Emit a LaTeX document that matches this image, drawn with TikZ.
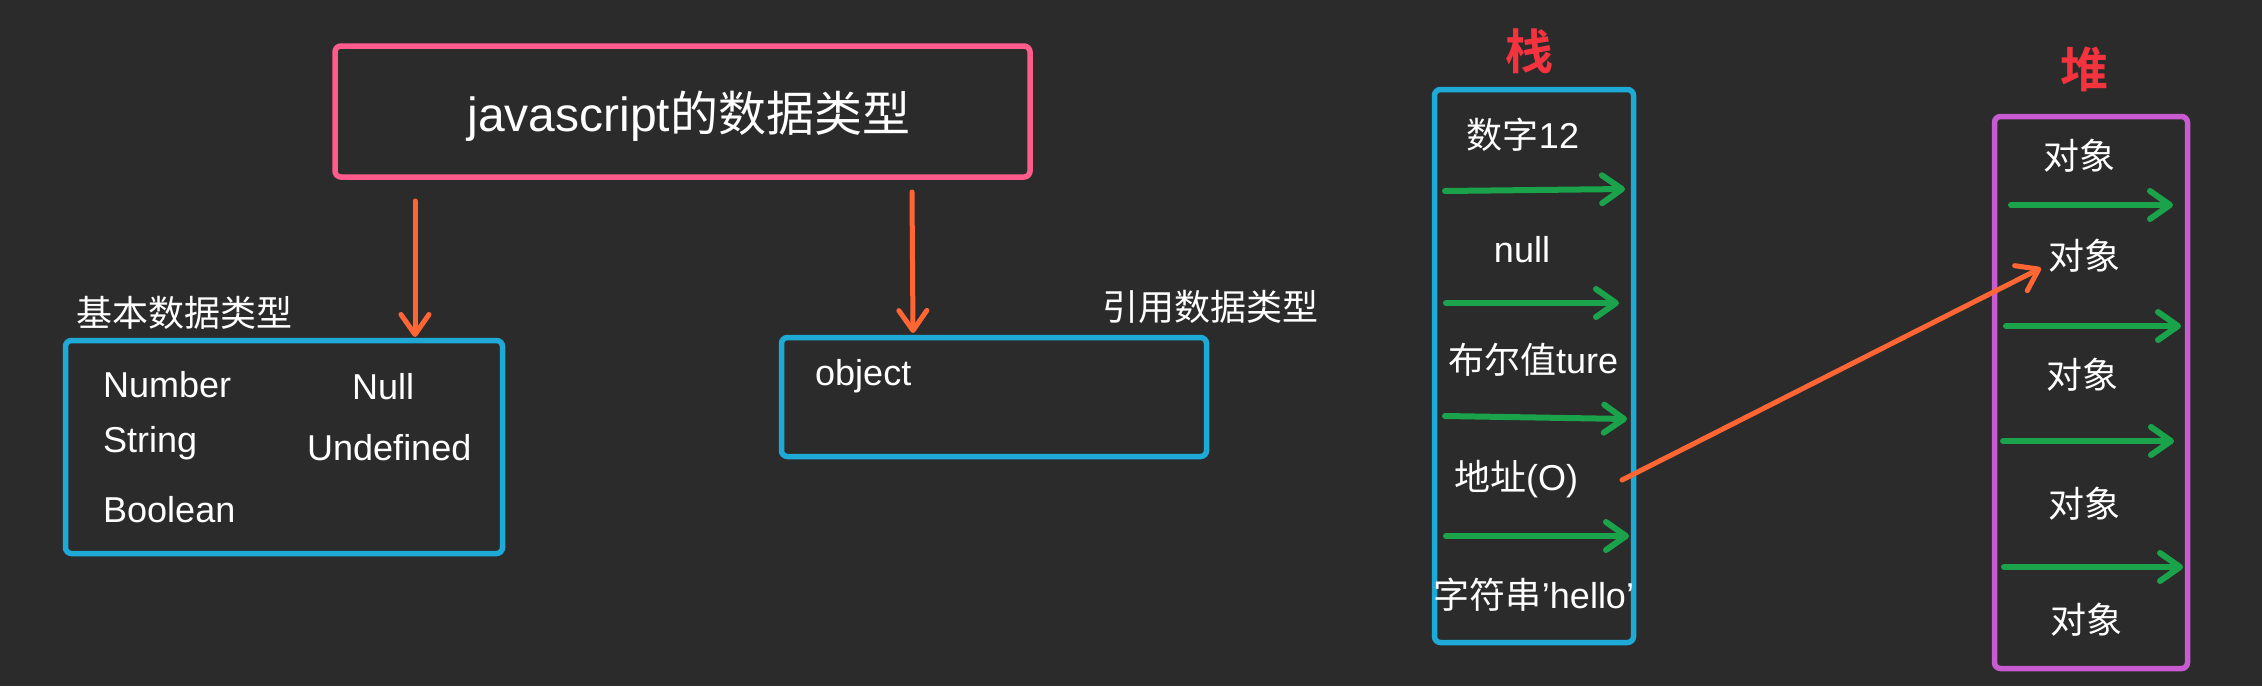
\documentclass[tikz,border=0pt]{standalone}
\usepackage{fontspec}
\setmainfont{Liberation Sans}
\newfontfamily\cjk{Noto Sans CJK SC}
\newfontfamily\cjkb{Noto Sans CJK SC Bold}
\usetikzlibrary{arrows.meta}
\definecolor{bgc}{HTML}{2B2B2B}
\definecolor{pinkc}{HTML}{FF5C8D}
\definecolor{bluec}{HTML}{1FA9D6}
\definecolor{magc}{HTML}{C95BD0}
\definecolor{greenc}{HTML}{1AA34A}
\definecolor{orangec}{HTML}{FF6633}
\definecolor{redc}{HTML}{F5333F}
\tikzset{
  box/.style={draw, line width=5.5pt, rounded corners=6pt, inner sep=0pt},
  txt/.style={text=white, inner sep=0pt, anchor=base, font=\fontsize{36}{40}\selectfont},
  ltxt/.style={txt, anchor=base west},
  redtxt/.style={text=redc, inner sep=0pt, anchor=base, font=\fontsize{48}{52}\selectfont\cjkb},
  oarrow/.style={draw=orangec, line width=5pt, line cap=round,
    -{Straight Barb[length=20pt,width=28pt,round,line width=5pt]}},
  garrow/.style={draw=greenc, line width=6pt, line cap=round,
    -{Straight Barb[length=20pt,width=28pt,round,line width=6pt]}},
}
\begin{document}
\begin{tikzpicture}[x=1pt,y=-1pt]
\fill[bgc] (0,0) rectangle (2262,686);
\useasboundingbox (0,0) rectangle (2262,686);

% title box
\node[box, draw=pinkc, minimum width=695pt, minimum height=131pt] (title) at (682.5,111.5) {};
\node[txt, font=\fontsize{48}{52}\selectfont] (titletxt) at (689,131) {javascript{\cjk 的数据类型}};

% basic types
\node[txt, font=\fontsize{36}{40}\selectfont\cjk] (basiclbl) at (184,326) {基本数据类型};
\node[box, draw=bluec, minimum width=437pt, minimum height=213pt] (basic) at (284,447) {};
\node[ltxt] (number) at (103,397) {Number};
\node[ltxt] (string) at (103,452) {String};
\node[ltxt] (boolean) at (103,522) {Boolean};
\node[ltxt] (null) at (352,399) {Null};
\node[ltxt] (undef) at (307,460) {Undefined};

% reference types
\node[txt, font=\fontsize{36}{40}\selectfont\cjk] (reflbl) at (1210,320) {引用数据类型};
\node[box, draw=bluec, minimum width=425pt, minimum height=119pt] (ref) at (994,397) {};
\node[ltxt] (object) at (815,385) {object};

% arrows from title
\coordinate (a1s) at (415,201);
\coordinate (a1e) at (415,337);
\coordinate (a2s) at (912,192);
\coordinate (a2e) at (913,333);
\draw[oarrow] (a1s) -- (a1e);
\draw[oarrow] (a2s) -- (a2e);

% stack
\node[redtxt] (zhan) at (1529,69) {栈};
\node[box, draw=bluec, minimum width=199pt, minimum height=553pt] (stack) at (1534,366) {};
\node[txt] (s1) at (1523,148) {{\cjk 数字}12};
\node[txt] (s2) at (1522,262) {null};
\node[txt] (s3) at (1533,373) {{\cjk 布尔值}ture};
\node[txt] (s4) at (1516,490) {{\cjk 地址}(O)};
\node[txt] (s5) at (1534,608) {{\cjk 字符串}’hello’};

\coordinate (g1s) at (1445,191); \coordinate (g1e) at (1625,189);
\coordinate (g2s) at (1446,303); \coordinate (g2e) at (1619,303);
\coordinate (g3s) at (1445,416); \coordinate (g3e) at (1627,419);
\coordinate (g4s) at (1446,536); \coordinate (g4e) at (1629,536);
\draw[garrow] (g1s) -- (g1e);
\draw[garrow] (g2s) -- (g2e);
\draw[garrow] (g3s) -- (g3e);
\draw[garrow] (g4s) -- (g4e);

% heap
\node[redtxt] (dui) at (2084,87) {堆};
\node[box, draw=magc, minimum width=193pt, minimum height=552pt] (heap) at (2091,392.5) {};
\node[txt, font=\fontsize{36}{40}\selectfont\cjk] (h1) at (2079,169) {对象};
\node[txt, font=\fontsize{36}{40}\selectfont\cjk] (h2) at (2084,269) {对象};
\node[txt, font=\fontsize{36}{40}\selectfont\cjk] (h3) at (2082,388) {对象};
\node[txt, font=\fontsize{36}{40}\selectfont\cjk] (h4) at (2084,517) {对象};
\node[txt, font=\fontsize{36}{40}\selectfont\cjk] (h5) at (2086,633) {对象};

\coordinate (k1s) at (2011,205); \coordinate (k1e) at (2173,205);
\coordinate (k2s) at (2006,326); \coordinate (k2e) at (2181,326);
\coordinate (k3s) at (2003,441); \coordinate (k3e) at (2174,441);
\coordinate (k4s) at (2004,567); \coordinate (k4e) at (2183,567);
\draw[garrow] (k1s) -- (k1e);
\draw[garrow] (k2s) -- (k2e);
\draw[garrow] (k3s) -- (k3e);
\draw[garrow] (k4s) -- (k4e);

% pointer from stack to heap
\coordinate (ps) at (1622,480);
\coordinate (pe) at (2041,268);
\draw[oarrow] (ps) -- (pe);
\end{tikzpicture}
\end{document}
